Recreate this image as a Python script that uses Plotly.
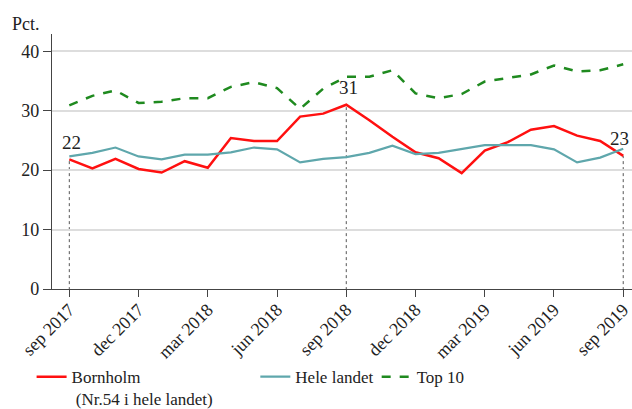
import plotly.graph_objects as go

months = ["sep 2017", "okt 2017", "nov 2017", "dec 2017", "jan 2018", "feb 2018", "mar 2018",
          "apr 2018", "maj 2018", "jun 2018", "jul 2018", "aug 2018", "sep 2018", "okt 2018",
          "nov 2018", "dec 2018", "jan 2019", "feb 2019", "mar 2019", "apr 2019", "maj 2019",
          "jun 2019", "jul 2019", "aug 2019", "sep 2019"]
tick_labels = ["sep 2017", "dec 2017", "mar 2018", "jun 2018", "sep 2018", "dec 2018",
               "mar 2019", "jun 2019", "sep 2019"]

bornholm = [21.8, 20.3, 21.9, 20.2, 19.6, 21.5, 20.4, 25.4, 24.9, 24.9, 29.0, 29.5, 31.0,
            28.4, 25.6, 23.0, 22.0, 19.5, 23.3, 24.7, 26.8, 27.4, 25.8, 24.9, 22.4]
hele_landet = [22.3, 22.9, 23.8, 22.3, 21.8, 22.6, 22.6, 23.0, 23.8, 23.5, 21.3, 21.9, 22.2,
               22.9, 24.1, 22.7, 22.9, 23.6, 24.2, 24.2, 24.2, 23.5, 21.3, 22.1, 23.6]
top10 = [30.9, 32.5, 33.4, 31.3, 31.5, 32.1, 32.1, 34.0, 34.8, 33.8, 30.3, 33.7, 35.7,
         35.7, 36.8, 32.9, 32.1, 32.8, 34.9, 35.5, 36.1, 37.6, 36.6, 36.8, 37.8]

marked = [0, 12, 24]
marked_labels = ["22", "31", "23"]

x = list(range(len(months)))
tick_idx = [months.index(t) for t in tick_labels]

FONT = "Liberation Serif"
TXT = "#222222"

fig = go.Figure()
fig.add_trace(go.Scatter(x=x, y=bornholm, mode="lines", name="Bornholm<br> (Nr.54 i hele landet)",
                         line=dict(color="#ff1010", width=2.5), legend="legend", showlegend=True))
fig.add_trace(go.Scatter(x=x, y=hele_landet, mode="lines", name="Hele landet",
                         line=dict(color="#5fa7ac", width=2.2), legend="legend2", showlegend=True))
fig.add_trace(go.Scatter(x=x, y=top10, mode="lines", name="Top 10",
                         line=dict(color="#1f8a1f", width=2.5, dash="dash"), legend="legend3",
                         showlegend=True))

xshifts = [2, 2, -4]
for i, lab, xs in zip(marked, marked_labels, xshifts):
    fig.add_shape(type="line", x0=i, x1=i, y0=-1.2, y1=bornholm[i], xref="x", yref="y",
                  line=dict(color="#555555", width=1, dash="dot"), layer="below")
    fig.add_annotation(x=i, y=bornholm[i], text=lab, showarrow=False, yshift=17,
                       xshift=xs, font=dict(family=FONT, size=19, color=TXT))

fig.add_annotation(xref="paper", yref="paper", x=-0.072, y=1.04, text="Pct.", showarrow=False,
                   xanchor="left", yanchor="middle", font=dict(family=FONT, size=18, color=TXT))

legend_common = dict(orientation="h", xref="container", yref="container",
                     yanchor="top", y=0.122, xanchor="left",
                     font=dict(family=FONT, size=17, color=TXT),
                     bgcolor="rgba(0,0,0,0)", valign="top")

fig.update_layout(
    width=632, height=409,
    margin=dict(l=52, r=0, t=34, b=120),
    showlegend=True,
    plot_bgcolor="white", paper_bgcolor="white",
    font=dict(family=FONT, size=18, color=TXT),
    legend=dict(x=0.050, **legend_common),
    legend2=dict(x=0.404, **legend_common),
    legend3=dict(x=0.596, **legend_common),
    xaxis=dict(range=[-0.75, 24.38], tickmode="array", tickvals=tick_idx, ticktext=tick_labels,
               tickangle=-45, ticks="outside", ticklen=7, tickcolor="#444444", automargin=False,
               ticklabeloverflow="allow", ticklabelstandoff=-5,
               showline=True, linecolor="#444444", linewidth=1.2, showgrid=False, zeroline=False,
               tickfont=dict(family=FONT, size=18, color=TXT)),
    yaxis=dict(range=[0, 42.9], tickvals=[0, 10, 20, 30, 40], ticks="outside", ticklen=8,
               tickcolor="#444444", showline=True, linecolor="#444444", linewidth=1.2,
               automargin=False, showgrid=True, gridcolor="#dddddd", gridwidth=1.5, zeroline=False,
               tickfont=dict(family=FONT, size=18, color=TXT)),
)

fig.write_html("out.html", config={"displayModeBar": False},
               post_script="document.body.style.margin='0';")
